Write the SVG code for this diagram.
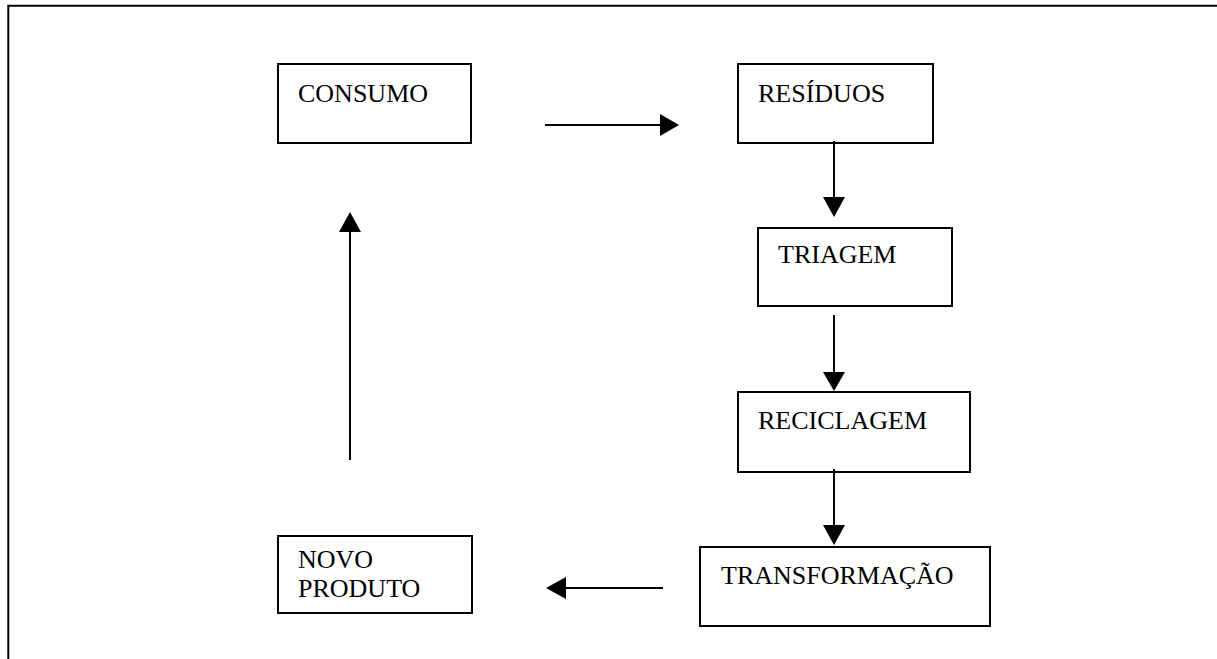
<svg xmlns="http://www.w3.org/2000/svg" width="1217" height="659" viewBox="0 0 1217 659">
  <style>
    .box { fill: #fff; stroke: #000; stroke-width: 2; }
    .lbl { font-family: "Liberation Serif", "Times New Roman", serif; font-size: 26px; fill: #000; }
    .ln { stroke: #000; stroke-width: 2; fill: none; }
    .hd { fill: #000; stroke: none; }
  </style>
  <rect width="1217" height="659" fill="#fff"/>
  <path d="M8.3 659 V5.8 H1217" fill="none" stroke="#000" stroke-width="2"/>

  <g id="consumo">
    <rect class="box" x="278" y="64" width="193" height="79"/>
    <text class="lbl" x="298" y="102">CONSUMO</text>
  </g>
  <g id="residuos">
    <rect class="box" x="738" y="64" width="195" height="79"/>
    <text class="lbl" x="758" y="102">RESÍDUOS</text>
  </g>
  <g id="triagem">
    <rect class="box" x="758" y="228" width="194" height="78"/>
    <text class="lbl" x="778" y="263">TRIAGEM</text>
  </g>
  <g id="reciclagem">
    <rect class="box" x="738" y="392" width="232" height="80"/>
    <text class="lbl" x="758" y="429">RECICLAGEM</text>
  </g>
  <g id="transformacao">
    <rect class="box" x="700" y="547" width="290" height="79"/>
    <text class="lbl" x="721" y="584">TRANSFORMAÇÃO</text>
  </g>
  <g id="novo-produto">
    <rect class="box" x="278" y="536" width="194" height="77"/>
    <text class="lbl" x="298" y="568">NOVO</text>
    <text class="lbl" x="298" y="597">PRODUTO</text>
  </g>

  <g id="connectors">
    <line class="ln" x1="545" y1="125" x2="661" y2="125"/>
    <polygon class="hd" points="679,125 660,114 660,136"/>

    <line class="ln" x1="834" y1="141" x2="834" y2="198"/>
    <polygon class="hd" points="834,217 823,197 845,197"/>

    <line class="ln" x1="834" y1="315" x2="834" y2="373"/>
    <polygon class="hd" points="834,391 823,372 845,372"/>

    <line class="ln" x1="834" y1="469" x2="834" y2="526"/>
    <polygon class="hd" points="834,545 823,525 845,525"/>

    <line class="ln" x1="663" y1="588" x2="565" y2="588"/>
    <polygon class="hd" points="546,588 566,577 566,599"/>

    <line class="ln" x1="350" y1="460" x2="350" y2="231"/>
    <polygon class="hd" points="350,212 339,232 361,232"/>
  </g>
</svg>
